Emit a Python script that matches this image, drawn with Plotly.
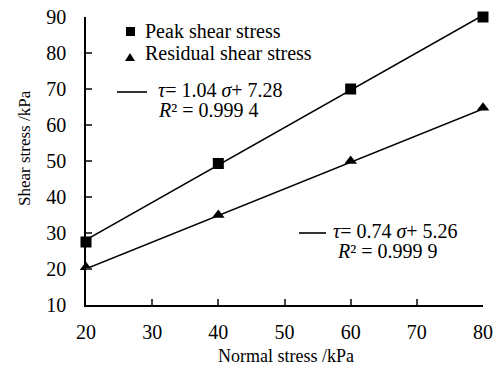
import plotly.graph_objects as go

normal_stress = [20, 40, 60, 80]
peak_shear = [27.5, 49.3, 70.0, 90.0]
residual_shear = [20.5, 35.0, 50.0, 64.8]
peak_fit = (1.04, 7.28)
residual_fit = (0.74, 5.26)
x_ticks = [20, 30, 40, 50, 60, 70, 80]
y_ticks = [10, 20, 30, 40, 50, 60, 70, 80, 90]

W, H = 499, 371
L, R, T, B = 86, 16, 17, 66
pw, ph = W - L - R, H - T - B

def px(x):
    return (x - L) / pw

def py(y):
    return (H - B - y) / ph

FONT = "Liberation Serif, Times New Roman, serif"

fig = go.Figure()
xs = [normal_stress[0], normal_stress[-1]]
for (a, b) in (peak_fit, residual_fit):
    fig.add_trace(go.Scatter(x=xs, y=[a * v + b for v in xs], mode="lines",
                             line=dict(color="black", width=1.6), showlegend=False,
                             hoverinfo="skip"))
fig.add_trace(go.Scatter(x=normal_stress, y=peak_shear, mode="markers",
                         marker=dict(symbol="square", size=11, color="black"),
                         name="Peak shear stress", showlegend=False, cliponaxis=False))
fig.add_trace(go.Scatter(x=normal_stress, y=residual_shear, mode="markers",
                         marker=dict(symbol="triangle-up", size=11, color="black"),
                         name="Residual shear stress", showlegend=False, cliponaxis=False))

shapes = []
annotations = []
# legend-like markers
shapes.append(dict(type="rect", xref="paper", yref="paper",
                   x0=px(126), x1=px(135), y0=py(36), y1=py(27),
                   fillcolor="black", line=dict(width=0)))
shapes.append(dict(type="path", xref="paper", yref="paper",
                   path=f"M {px(125)} {py(61)} L {px(135)} {py(61)} L {px(130)} {py(53)} Z",
                   fillcolor="black", line=dict(width=0)))

def ann(text, x, y, size=20, **kw):
    d = dict(text=text, x=px(x), y=py(y), xref="paper", yref="paper",
             xanchor="left", yanchor="middle", showarrow=False,
             font=dict(size=size, family=FONT))
    d.update(kw)
    annotations.append(d)

ann("Peak shear stress", 143, 31)
ann("Residual shear stress", 143, 53)
# equation 1
shapes.append(dict(type="line", xref="paper", yref="paper",
                   x0=px(117), x1=px(147), y0=py(92), y1=py(92), line=dict(color="black", width=1.6)))
ann("<i>τ</i>= 1.04 <i>σ</i>+ 7.28", 156, 90)
ann("<i>R</i>\u00b2 = 0.999 4", 156, 110)
# equation 2
shapes.append(dict(type="line", xref="paper", yref="paper",
                   x0=px(299), x1=px(326), y0=py(233), y1=py(233), line=dict(color="black", width=1.6)))
ann("<i>τ</i>= 0.74 <i>σ</i>+ 5.26", 331, 231)
ann("<i>R</i>\u00b2 = 0.999 9", 335, 251)
# axis titles
ann("Shear stress /kPa", 24, 148, size=17, textangle=-90, xanchor="center")
ann("Normal stress /kPa", 286, 356, size=18, xanchor="center")

fig.update_layout(
    width=W, height=H, margin=dict(l=L, r=R, t=T, b=B),
    paper_bgcolor="white", plot_bgcolor="white",
    font=dict(family=FONT, size=18, color="black"),
    shapes=shapes, annotations=annotations, showlegend=False,
    xaxis=dict(range=[20, 80], tickvals=x_ticks, ticks="inside", ticklen=6, tickwidth=1.5,
               showline=True, linecolor="black", linewidth=1.5, showgrid=False, zeroline=False,
               automargin=False, tickfont=dict(size=20), ticklabelstandoff=8),
    yaxis=dict(range=[10, 90], tickvals=y_ticks, ticks="inside", ticklen=6, tickwidth=1.5,
               showline=True, linecolor="black", linewidth=1.5, showgrid=False, zeroline=False,
               automargin=False, tickfont=dict(size=20), ticklabelstandoff=14),
)
fig.write_html("out.html")
